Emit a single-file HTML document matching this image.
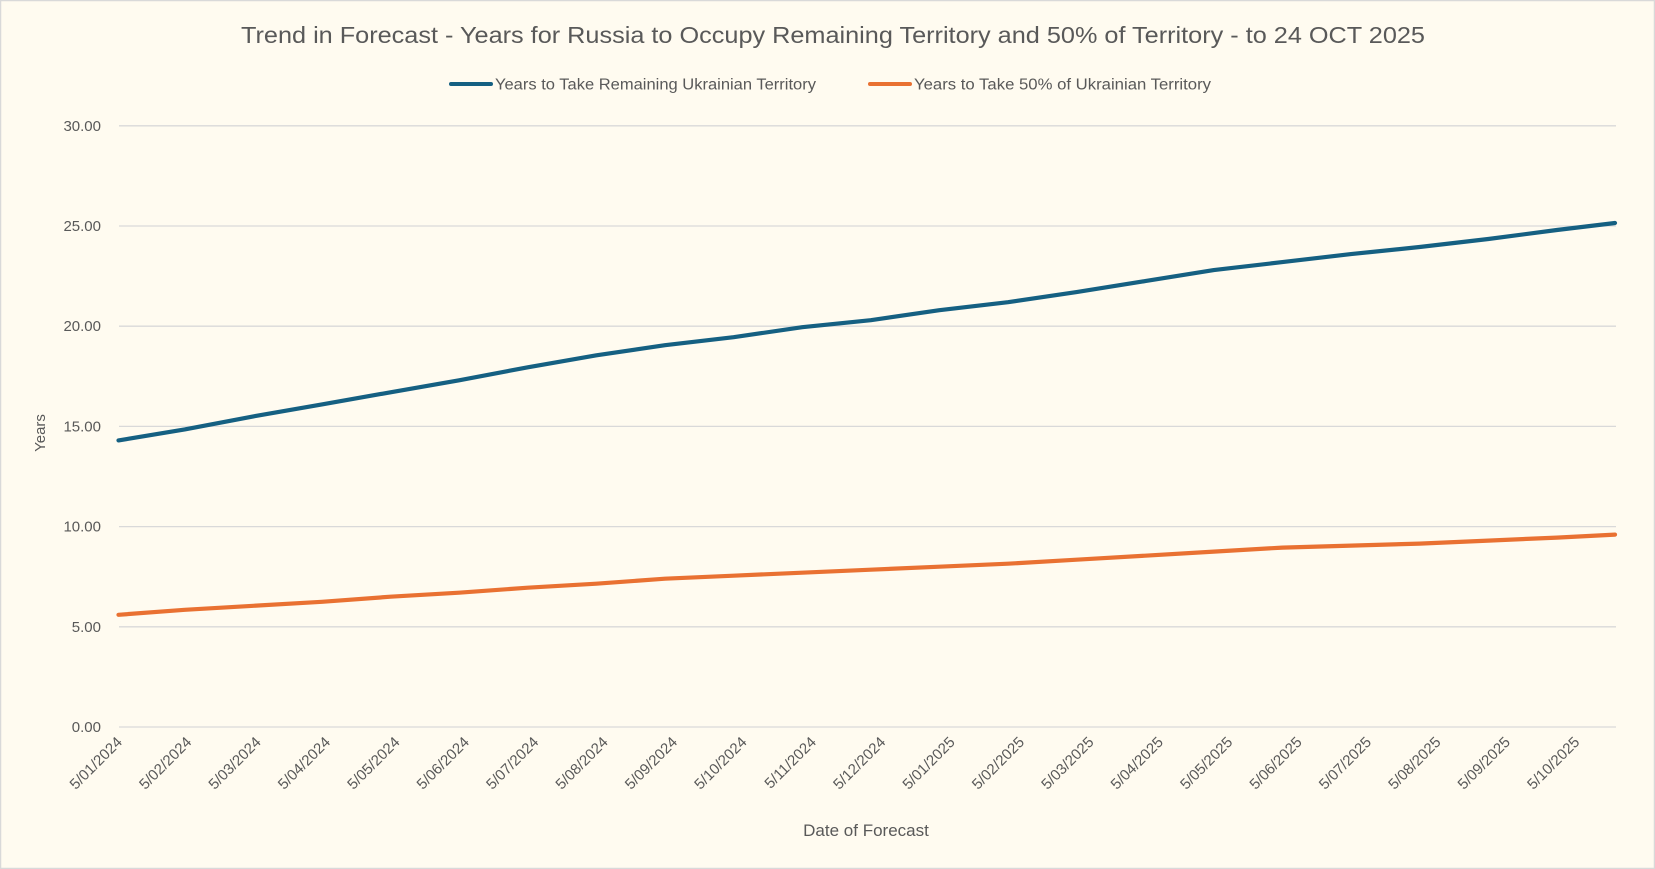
<!DOCTYPE html>
<html><head><meta charset="utf-8"><style>
html,body{margin:0;padding:0;background:#fffbf0;}
svg{display:block;font-family:"Liberation Sans",sans-serif;}
</style></head><body>
<svg id="s" width="1655" height="869" viewBox="0 0 1655 869" xmlns="http://www.w3.org/2000/svg">
<rect x="0.5" y="0.5" width="1654" height="868" fill="#fffbf0" stroke="#d9d9d9" stroke-width="1.5"/>
<text x="833" y="43" font-size="23" fill="#595959" text-anchor="middle" textLength="1184" lengthAdjust="spacingAndGlyphs">Trend in Forecast - Years for Russia to Occupy Remaining Territory and 50% of Territory - to 24 OCT 2025</text>
<line x1="451" y1="84" x2="491" y2="84" stroke="#156082" stroke-width="4" stroke-linecap="round"/>
<text x="495" y="89.5" font-size="15.5" fill="#595959" textLength="321" lengthAdjust="spacingAndGlyphs">Years to Take Remaining Ukrainian Territory</text>
<line x1="870" y1="84" x2="910" y2="84" stroke="#e97132" stroke-width="4" stroke-linecap="round"/>
<text x="914" y="89.5" font-size="15.5" fill="#595959" textLength="297" lengthAdjust="spacingAndGlyphs">Years to Take  50% of Ukrainian Territory</text>
<g id="grid"></g>
<text transform="translate(45,433) rotate(-90)" font-size="15" fill="#595959" text-anchor="middle">Years</text>
<text x="866" y="836" font-size="17" fill="#595959" text-anchor="middle">Date of Forecast</text>
<g id="lines"></g>
</svg>
<script>
var ns="http://www.w3.org/2000/svg",s=1.0555;
function Y(v){return 727-v*20.04;}
var g=document.getElementById('grid'),h='';
for(var i=0;i<=6;i++){var y=Y(i*5);h+='<line x1="119" x2="1616" y1="'+y+'" y2="'+y+'" stroke="#d9d9d9" stroke-width="1.3"/>';
h+='<text x="101" y="'+(y+5)+'" font-size="15" fill="#595959" text-anchor="end">'+(i*5).toFixed(2)+'</text>';}
var labs=['5/01/2024','5/02/2024','5/03/2024','5/04/2024','5/05/2024','5/06/2024','5/07/2024','5/08/2024','5/09/2024','5/10/2024','5/11/2024','5/12/2024','5/01/2025','5/02/2025','5/03/2025','5/04/2025','5/05/2025','5/06/2025','5/07/2025','5/08/2025','5/09/2025','5/10/2025'];
for(var i=0;i<labs.length;i++){var x=123+i*69.4;h+='<text transform="translate('+x+',743) rotate(-45)" font-size="15" fill="#595959" text-anchor="end">'+labs[i]+'</text>';}
g.innerHTML=h;
var xs=[112,175,240,305,370,435,500,565,630,695,760,825,890,955,1020,1085,1150,1215,1280,1345,1410,1475,1531];
var b=[14.3,14.85,15.5,16.1,16.7,17.3,17.95,18.55,19.05,19.45,19.95,20.3,20.8,21.2,21.7,22.25,22.8,23.2,23.6,23.95,24.35,24.8,25.15];
var o=[5.6,5.85,6.05,6.25,6.5,6.7,6.95,7.15,7.4,7.55,7.7,7.85,8.0,8.15,8.35,8.55,8.75,8.95,9.05,9.15,9.3,9.45,9.6];
function path(a){var d='';for(var i=0;i<xs.length;i++){var x=(i==0?118.5:(i==xs.length-1?1615:xs[i]*s));d+=(i?'L':'M')+x.toFixed(1)+','+Y(a[i]).toFixed(1);}return d;}
document.getElementById('lines').innerHTML='<path d="'+path(b)+'" fill="none" stroke="#156082" stroke-width="4.2" stroke-linejoin="round" stroke-linecap="round"/><path d="'+path(o)+'" fill="none" stroke="#e97132" stroke-width="4.2" stroke-linejoin="round" stroke-linecap="round"/>';
</script>
</body></html>
